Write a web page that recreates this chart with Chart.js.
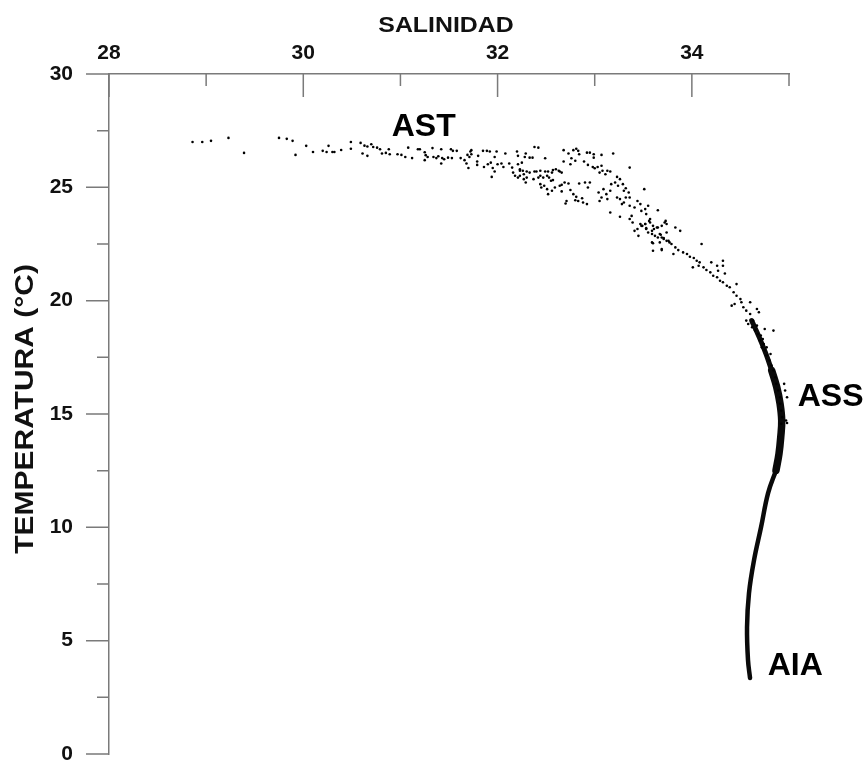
<!DOCTYPE html>
<html lang="es">
<head>
  <meta charset="UTF-8" />
  <script src="https://cdn.jsdelivr.net/npm/chart.js"></script>
  <title>Diagrama T-S</title>
  <style>
    html, body { margin: 0; padding: 0; background: #fff; }
    #wrap { width: 868px; height: 760px; position: relative; }
  </style>
</head>
<body>
  <div id="wrap"><canvas id="tsChart"></canvas></div>

  <script>
    // ejes
    const salTicks = [28, 29, 30, 31, 32, 33, 34, 35];
    const salTickLabels = ['28', '', '30', '', '32', '', '34', ''];
    const tempTicks = [0, 5, 10, 15, 20, 25, 30];
    const salTitle = 'SALINIDAD';
    const tempTitle = 'TEMPERATURA (°C)';

    // masas de agua (nombre, salinidad, temperatura donde va el rótulo)
    const massNames = ['AST', 'ASS', 'AIA'];
    const massSal = [30.91, 35.09, 34.78];
    const massTemp = [27.27, 15.37, 3.48];

    // puntos dispersos [salinidad, temperatura] - capa superficial (AST)
    const astPoints = [
      [28.86, 27.0], [28.96, 27.0], [29.05, 27.05], [29.23, 27.18], [29.39, 26.52], [29.75, 27.18],
      [29.83, 27.14], [29.89, 27.05], [29.92, 26.43], [30.03, 26.83], [30.10, 26.56], [30.20, 26.61],
      [30.24, 26.56], [30.26, 26.83], [30.30, 26.56], [30.32, 26.56], [30.39, 26.65], [30.49, 27.0],
      [30.49, 26.7], [30.59, 26.96], [30.63, 26.84], [30.66, 26.80], [30.70, 26.90], [30.72, 26.78],
      [30.76, 26.75], [30.79, 26.68], [30.61, 26.49], [30.66, 26.39], [30.81, 26.49], [30.85, 26.52],
      [30.88, 26.68], [30.89, 26.46], [30.97, 26.46], [31.01, 26.43], [31.05, 26.34], [31.08, 26.75],
      [31.12, 26.29], [31.18, 26.68], [31.20, 26.68], [31.25, 26.55], [31.26, 26.42], [31.28, 26.34],
      [31.25, 26.20], [31.33, 26.73], [31.34, 26.34], [31.37, 26.29], [31.39, 26.37], [31.42, 26.68],
      [31.43, 26.29], [31.42, 26.05], [31.45, 26.24], [31.49, 26.31], [31.52, 26.68], [31.54, 26.61],
      [31.58, 26.61], [31.53, 26.29], [31.62, 26.29], [31.66, 26.20], [31.69, 26.43], [31.72, 26.58],
      [31.73, 26.64], [31.71, 26.34], [31.73, 26.46], [31.68, 26.05], [31.70, 25.85], [31.80, 26.39],
      [31.79, 26.14], [31.79, 25.99], [31.85, 26.61], [31.89, 26.61], [31.92, 26.58], [31.99, 26.58],
      [31.97, 26.34], [31.86, 25.90], [31.90, 26.02], [31.93, 26.09], [31.95, 25.85], [31.97, 25.70],
      [32.00, 26.02], [32.04, 26.05], [32.06, 25.90], [31.94, 25.46], [32.08, 26.49], [32.12, 26.05],
      [32.15, 25.87], [32.16, 25.65], [32.20, 26.58], [32.21, 26.39], [32.21, 26.02], [32.23, 25.73],
      [32.21, 25.43], [32.25, 26.09], [32.27, 25.58], [32.18, 25.51]
    ];

    // zona de mezcla (32.2 - 33.8)
    const mixPoints = [
      [32.38, 26.78], [32.42, 26.75], [32.29, 26.49], [32.28, 26.34], [32.33, 26.31], [32.36, 26.31],
      [32.49, 26.28], [32.68, 26.64], [32.73, 26.49], [32.78, 26.64], [32.81, 26.70], [32.83, 26.61],
      [32.84, 26.46], [32.92, 26.53], [32.95, 26.53], [32.99, 26.46], [32.99, 26.31], [33.07, 26.43],
      [33.19, 26.49], [32.76, 26.28], [32.80, 26.17], [32.68, 26.14], [32.75, 26.02], [32.89, 26.14],
      [32.93, 25.99], [32.98, 25.90], [33.00, 25.84], [33.03, 25.90], [33.05, 25.65], [33.08, 25.73],
      [33.11, 25.58], [33.13, 25.73], [33.16, 25.70], [33.07, 25.95], [32.23, 25.80], [32.26, 25.73],
      [32.30, 25.70], [32.33, 25.65], [32.38, 25.70], [32.40, 25.70], [32.44, 25.73], [32.49, 25.70],
      [32.52, 25.70], [32.56, 25.65], [32.57, 25.76], [32.60, 25.80], [32.63, 25.73], [32.64, 25.70],
      [32.66, 25.65], [32.23, 25.51], [32.27, 25.36], [32.30, 25.43], [32.29, 25.21], [32.37, 25.36],
      [32.42, 25.43], [32.44, 25.51], [32.47, 25.43], [32.51, 25.51], [32.53, 25.43], [32.55, 25.29],
      [32.57, 25.32], [32.44, 25.14], [32.45, 24.99], [32.48, 25.07], [32.51, 24.92], [32.56, 24.85],
      [32.52, 24.70], [32.59, 24.99], [32.64, 25.07], [32.66, 25.11], [32.69, 25.21], [32.73, 25.17],
      [32.75, 24.88], [32.66, 24.82], [32.78, 24.70], [32.81, 24.58], [32.80, 24.43], [32.83, 24.40],
      [32.87, 24.52], [32.88, 24.33], [32.92, 24.26], [32.71, 24.40], [32.70, 24.29], [32.84, 25.17],
      [32.90, 25.21], [32.95, 25.21], [32.93, 24.99], [33.04, 24.77], [33.09, 24.92], [33.07, 24.55],
      [33.05, 24.40], [33.12, 24.70], [33.13, 24.48], [33.16, 24.85], [33.17, 25.14], [33.21, 25.21],
      [33.23, 25.46], [33.26, 25.36], [33.24, 25.07], [33.29, 25.14], [33.30, 24.85], [33.32, 24.96],
      [33.35, 24.77], [33.36, 25.87], [33.23, 24.55], [33.26, 24.48], [33.30, 24.33], [33.32, 24.55],
      [33.28, 24.26], [33.26, 23.70], [33.16, 23.89], [33.36, 24.19], [33.38, 23.74], [33.41, 24.11],
      [33.44, 24.40], [33.47, 24.26], [33.48, 23.96], [33.51, 24.92], [33.52, 24.04], [33.53, 23.82],
      [33.55, 24.19], [33.57, 23.60], [33.36, 23.60], [33.39, 23.45], [33.41, 23.08], [33.44, 23.16],
      [33.45, 22.86], [33.47, 23.38], [33.49, 23.30], [33.52, 23.38], [33.53, 23.20], [33.55, 23.01],
      [33.59, 23.08], [33.61, 23.16], [33.64, 23.23], [33.56, 23.52], [33.65, 23.99], [33.67, 22.94],
      [33.69, 22.79], [33.71, 22.72], [33.73, 23.52], [33.74, 23.01], [33.76, 22.64], [33.67, 22.57],
      [33.59, 22.57], [33.60, 22.20], [33.69, 22.28], [33.74, 23.38], [33.36, 24.55]
    ];

    // termoclina hacia el ASS
    const thermoPoints = [
      [33.48, 23.30], [33.52, 23.38], [33.57, 23.45], [33.60, 23.30], [33.65, 23.23], [33.69, 23.30],
      [33.72, 23.45], [33.83, 23.23], [33.88, 23.08], [33.53, 23.16], [33.59, 22.94], [33.62, 22.86],
      [33.65, 22.79], [33.68, 22.91], [33.71, 22.76], [33.74, 22.64], [33.77, 22.57], [33.79, 22.50],
      [33.83, 22.35], [33.86, 22.23], [33.60, 22.53], [33.69, 22.23], [33.81, 22.06], [33.91, 22.13],
      [33.95, 22.06], [33.98, 21.94], [34.02, 21.88], [34.05, 21.76], [34.08, 21.69], [34.10, 22.50],
      [34.01, 21.47], [34.07, 21.54], [34.12, 21.47], [34.15, 21.35], [34.19, 21.25], [34.20, 21.69],
      [34.26, 21.54], [34.27, 21.32], [34.32, 21.76], [34.32, 21.54], [34.34, 21.20], [34.22, 21.10],
      [34.26, 21.03], [34.29, 20.88], [34.32, 20.81], [34.36, 20.66], [34.39, 20.59], [34.46, 20.73],
      [34.43, 20.37], [34.46, 20.22], [34.50, 20.07], [34.51, 19.93], [34.53, 19.71], [34.56, 19.56],
      [34.60, 19.41], [34.44, 19.85], [34.41, 19.78], [34.60, 19.93], [34.67, 19.63], [34.69, 19.49],
      [34.56, 19.12], [34.58, 18.97], [34.62, 18.83], [34.65, 18.68], [34.68, 18.53], [34.70, 18.24],
      [34.74, 18.09], [34.75, 17.80], [34.72, 17.94], [34.77, 17.58], [34.80, 17.36], [34.82, 17.14],
      [34.84, 16.92], [34.75, 18.75], [34.84, 18.68], [34.86, 16.62], [34.87, 16.33], [34.89, 16.04],
      [34.91, 15.74], [34.91, 15.45], [34.92, 15.15], [34.93, 14.86], [34.95, 16.33], [34.96, 16.04],
      [34.98, 15.74], [34.97, 14.71], [34.98, 14.60], [34.92, 14.57], [34.63, 19.12], [34.67, 18.90],
      [34.71, 18.46], [34.73, 18.31], [34.77, 17.94], [34.81, 17.65]
    ];

    // núcleo denso de la curva
    const upperCore = [
      [34.822, 16.92], [34.763, 17.65], [34.694, 18.38], [34.616, 19.12]
    ];
    const assCore = [
      [34.866, 12.51], [34.897, 13.25], [34.915, 13.98], [34.925, 14.71],
      [34.908, 15.45], [34.874, 16.18], [34.822, 16.92]
    ];
    const deepCore = [
      [34.599, 3.35], [34.578, 4.14], [34.568, 5.59], [34.588, 7.09],
      [34.640, 8.55], [34.712, 10.0], [34.784, 11.5], [34.866, 12.51]
    ];

    const axisColor = '#7a7a7a';
    const fontFamily = '"Liberation Sans", Arial, sans-serif';

    const toXY = (pairs) => pairs.map(p => ({ x: p[0], y: p[1] }));

    // marcas de los ejes, títulos y rótulos de masas de agua
    const tickMarks = {
      id: 'tickMarks',
      afterDraw(chart) {
        const { ctx, scales: { x, y } } = chart;
        ctx.save();
        ctx.strokeStyle = axisColor;
        ctx.lineWidth = 1.5;
        ctx.beginPath();
        salTicks.forEach((v, i) => {
          const px = x.getPixelForValue(v);
          const len = salTickLabels[i] ? 23 : 12;
          ctx.moveTo(px, y.top);
          ctx.lineTo(px, y.top + len);
        });
        tempTicks.forEach((v, i) => {
          let py = y.getPixelForValue(v);
          ctx.moveTo(x.left, py);
          ctx.lineTo(x.left - 23, py);
          if (i < tempTicks.length - 1) {
            py = y.getPixelForValue((v + tempTicks[i + 1]) / 2);
            ctx.moveTo(x.left, py);
            ctx.lineTo(x.left - 12, py);
          }
        });
        ctx.stroke();

        ctx.fillStyle = '#111';
        ctx.textAlign = 'center';
        ctx.textBaseline = 'alphabetic';

        // título superior (algo ensanchado, como en el original)
        ctx.save();
        ctx.font = 'bold 22px ' + fontFamily;
        ctx.translate((x.left + x.right) / 2 - 3, 32);
        ctx.scale(1.13, 1);
        ctx.fillText(salTitle, 0, 0);
        ctx.restore();

        // título vertical
        ctx.save();
        ctx.font = 'bold 25px ' + fontFamily;
        ctx.translate(33, (y.top + y.bottom) / 2 - 5);
        ctx.rotate(-Math.PI / 2);
        ctx.scale(1.2, 1);
        ctx.fillText(tempTitle, 0, 0);
        ctx.restore();

        ctx.fillStyle = '#000';
        ctx.font = 'bold 32px ' + fontFamily;
        ctx.textAlign = 'left';
        massNames.forEach((n, i) => {
          ctx.fillText(n, x.getPixelForValue(massSal[i]), y.getPixelForValue(massTemp[i]));
        });
        ctx.restore();
      }
    };

    const dotStyle = {
      showLine: false,
      pointRadius: 1.3,
      pointBackgroundColor: '#000',
      pointBorderWidth: 0
    };
    const lineStyle = {
      showLine: true,
      pointRadius: 0,
      borderColor: '#0a0a0a',
      tension: 0.4,
      borderCapStyle: 'round',
      borderJoinStyle: 'round'
    };

    new Chart(document.getElementById('tsChart').getContext('2d'), {
      type: 'scatter',
      data: {
        datasets: [
          { label: 'AST', data: toXY(astPoints), ...dotStyle },
          { label: 'mezcla', data: toXY(mixPoints), ...dotStyle },
          { label: 'termoclina', data: toXY(thermoPoints), ...dotStyle },
          { label: 'núcleo sup.', data: toXY(upperCore), ...lineStyle, borderWidth: 5 },
          { label: 'ASS', data: toXY(assCore), ...lineStyle, borderWidth: 7.5 },
          { label: 'AIA', data: toXY(deepCore), ...lineStyle, borderWidth: 4.5 }
        ]
      },
      options: {
        responsive: true,
        maintainAspectRatio: false,
        animation: false,
        layout: { padding: { top: 0, left: 0, right: 79, bottom: 6 } },
        plugins: {
          legend: { display: false },
          tooltip: { enabled: false }
        },
        scales: {
          x: {
            type: 'linear',
            position: 'top',
            min: 28,
            max: 35,
            afterBuildTicks: (scale) => { scale.ticks = salTicks.map(v => ({ value: v })); },
            afterFit: (scale) => { scale.height = 74; scale.paddingLeft = 0; scale.paddingRight = 0; },
            grid: { display: true, drawOnChartArea: false, drawTicks: false },
            border: { display: true, color: axisColor, width: 1.5 },
            ticks: {
              padding: 8,
              color: '#111',
              font: { family: fontFamily, size: 21, weight: 'bold' },
              maxRotation: 0,
              autoSkip: false,
              callback: (v) => salTickLabels[salTicks.indexOf(v)] ?? ''
            },
            title: { display: false }
          },
          y: {
            type: 'linear',
            min: 0,
            max: 30,
            afterBuildTicks: (scale) => { scale.ticks = tempTicks.map(v => ({ value: v })); },
            afterFit: (scale) => { scale.width = 109; scale.paddingTop = 0; scale.paddingBottom = 0; },
            grid: { display: true, drawOnChartArea: false, drawTicks: false },
            border: { display: true, color: axisColor, width: 1.5 },
            ticks: {
              padding: 36,
              color: '#111',
              font: { family: fontFamily, size: 21, weight: 'bold' }
            },
            title: { display: false }
          }
        }
      },
      plugins: [tickMarks]
    });
  </script>
</body>
</html>
